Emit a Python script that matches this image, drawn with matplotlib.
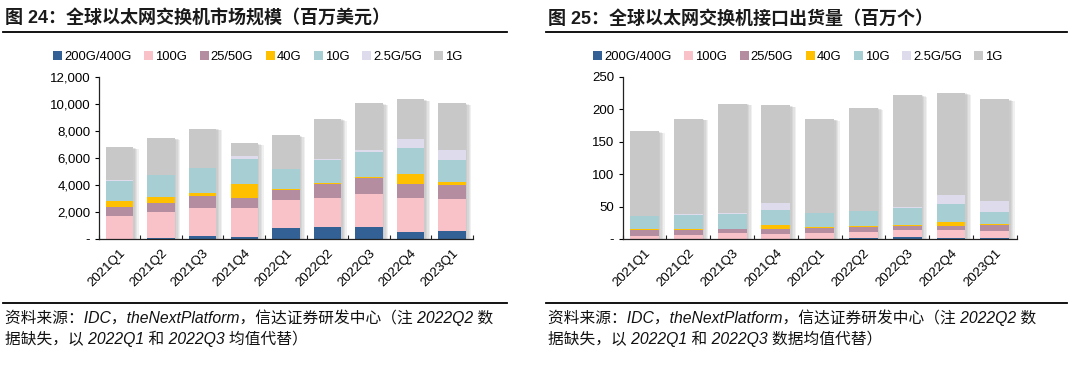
import matplotlib
matplotlib.use("Agg")
import matplotlib.pyplot as plt
import matplotlib.patheffects as pe
from matplotlib.lines import Line2D
from matplotlib.ticker import FuncFormatter, FixedLocator
import numpy as np

plt.rcParams['font.family'] = ['Liberation Sans', 'Noto Sans CJK SC', 'DejaVu Sans']

quarters = ["2021Q1", "2021Q2", "2021Q3", "2021Q4", "2022Q1", "2022Q2", "2022Q3", "2022Q4", "2023Q1"]
series_names = ["200G/400G", "100G", "25/50G", "40G", "10G", "2.5G/5G", "1G"]
colors = ["#336195", "#F9C1C8", "#B48EA0", "#FFC000", "#A7CFD3", "#DEDCEC", "#C8C8C8"]

# Chart 24: market size (million USD)
rev_200g = [20, 80, 220, 130, 840, 880, 890, 510, 590]
rev_100g = [1680, 1890, 2050, 2140, 2020, 2175, 2460, 2545, 2390]
rev_25g = [640, 720, 930, 785, 790, 1010, 1180, 1010, 1010]
rev_40g = [445, 390, 220, 1035, 70, 75, 80, 735, 250]
rev_10g = [1525, 1650, 1830, 1850, 1430, 1675, 1845, 1950, 1575]
rev_2g5 = [50, 30, 30, 195, 30, 95, 100, 640, 740]
rev_1g = [2415, 2690, 2880, 935, 2480, 2960, 3475, 2930, 3475]

# Chart 25: port shipments (million)
ship_200g = [0.2, 0.2, 0.3, 0.3, 0.5, 2, 3, 1, 1]
ship_100g = [5, 6, 9, 8, 9, 9, 10.5, 12.5, 11.5]
ship_25g = [8, 7.5, 6, 6.5, 7.5, 7, 6.5, 7, 8.5]
ship_40g = [1.5, 1.5, 0.3, 7, 1.5, 1.5, 1.5, 5, 2]
ship_10g = [20.5, 22.5, 23, 23.5, 21, 23.5, 27, 28.5, 19]
ship_2g5 = [0.5, 0.5, 1, 10.5, 0.5, 0.5, 0.5, 14, 17]
ship_1g = [130, 147, 169, 150, 144.5, 158.5, 173, 157, 156]

rev = [rev_200g, rev_100g, rev_25g, rev_40g, rev_10g, rev_2g5, rev_1g]
ship = [ship_200g, ship_100g, ship_25g, ship_40g, ship_10g, ship_2g5, ship_1g]

W, H = 1080, 365
fig = plt.figure(figsize=(W / 100, H / 100), dpi=100)


def px_axes(l, r, t, b):
    return fig.add_axes([l / W, 1 - b / H, (r - l) / W, (b - t) / H])


def draw(ax, data, ymax, step, fmt):
    x = np.arange(len(quarters))
    width = 0.66
    totals = np.sum(np.array(data), axis=0)
    # soft shadow built from several faint offset copies
    effects = [pe.SimplePatchShadow(offset=(d, -d * 0.3), shadow_rgbFace="#707070", alpha=0.1)
               for d in (4, 3, 2, 1)]
    effects.append(pe.Normal())
    ax.bar(x, totals, width=width, color="white", zorder=1, path_effects=effects)
    bottom = np.zeros(len(quarters))
    for vals, c, name in zip(data, colors, series_names):
        ax.bar(x, vals, width=width, bottom=bottom, color=c, zorder=2, label=name)
        bottom += np.array(vals)
    ax.set_xlim(-0.5, len(quarters) - 0.5)
    ax.set_ylim(0, ymax)
    ax.set_yticks(np.arange(0, ymax + 1, step))
    ax.yaxis.set_major_formatter(FuncFormatter(fmt))
    ax.set_xticks(x)
    ax.set_xticklabels(quarters, rotation=45, ha="right", rotation_mode="anchor", fontsize=9.5)
    ax.xaxis.set_minor_locator(FixedLocator(np.arange(-0.5, len(quarters), 1)))
    ax.tick_params(axis="x", which="major", length=0, pad=6)
    ax.tick_params(axis="x", which="minor", length=3, width=0.8, direction="in", color="#222222")
    ax.tick_params(axis="y", length=3, width=0.8, direction="out", labelsize=9.5, pad=3)
    for s in ["top", "right"]:
        ax.spines[s].set_visible(False)
    for s in ["left", "bottom"]:
        ax.spines[s].set_color("#222222")
        ax.spines[s].set_linewidth(0.9)
    ax.patch.set_alpha(0)


def fmt_rev(v, pos):
    return "-" if v == 0 else f"{int(v):,}"


def fmt_ship(v, pos):
    return "-" if v == 0 else f"{int(v)}"


ax1 = px_axes(98.7, 473, 76.7, 239)
draw(ax1, rev, 12000, 2000, fmt_rev)
ax2 = px_axes(622.7, 1016.7, 76.7, 239)
draw(ax2, ship, 250, 50, fmt_ship)

for ax, cx in [(ax1, 258), (ax2, 798)]:
    h, l = ax.get_legend_handles_labels()
    fig.legend(h, l, loc="center", bbox_to_anchor=(cx / W, 1 - 57 / H), ncol=7, frameon=False,
               fontsize=9.4, handlelength=0.7, handleheight=0.7, handletextpad=0.15, columnspacing=0.95,
               borderaxespad=0)

title_font = ['Liberation Sans', 'Noto Sans CJK SC']
fig.text(5 / W, 1 - 19 / H, "图 24：全球以太网交换机市场规模（百万美元）", fontsize=13, fontweight="bold",
         family=title_font, va="center", ha="left", color="#1a1a1a")
fig.text(548 / W, 1 - 19 / H, "图 25：全球以太网交换机接口出货量（百万个）", fontsize=13, fontweight="bold",
         family=title_font, va="center", ha="left", color="#1a1a1a")

for (x0, x1) in [(3, 507), (546, 1067)]:
    for y in [32, 303]:
        fig.add_artist(Line2D([x0 / W, x1 / W], [1 - y / H, 1 - y / H], color="black", lw=1.3))

src_font = ['Liberation Sans', 'Noto Sans CJK SC']
fs = 11.3
fig.text(5 / W, 1 - 318 / H, "资料来源：IDC，theNextPlatform，信达证券研发中心（注 2022Q2 数",
         fontsize=fs, style="italic", family=src_font, va="center", ha="left", color="#111111")
fig.text(5 / W, 1 - 339 / H, "据缺失，以 2022Q1 和 2022Q3 均值代替）",
         fontsize=fs, style="italic", family=src_font, va="center", ha="left", color="#111111")
fig.text(548 / W, 1 - 318 / H, "资料来源：IDC，theNextPlatform，信达证券研发中心（注 2022Q2 数",
         fontsize=fs, style="italic", family=src_font, va="center", ha="left", color="#111111")
fig.text(548 / W, 1 - 339 / H, "据缺失，以 2022Q1 和 2022Q3 数据均值代替）",
         fontsize=fs, style="italic", family=src_font, va="center", ha="left", color="#111111")

fig.savefig("out.png", dpi=100)
